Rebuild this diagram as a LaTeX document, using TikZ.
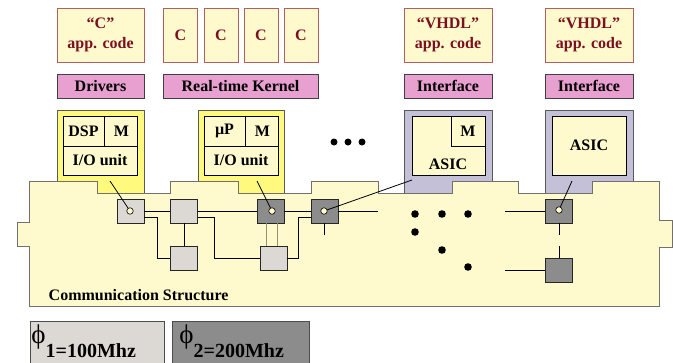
\documentclass[tikz,border=0pt]{standalone}
\usepackage{fontspec}
\setmainfont{Liberation Serif}
\usetikzlibrary{positioning, calc}
\definecolor{crema}{RGB}{255,250,205}
\definecolor{amarillo}{RGB}{255,250,125}
\definecolor{lila}{RGB}{196,192,216}
\definecolor{rosa}{RGB}{232,160,208}
\definecolor{granate}{RGB}{122,16,32}
\definecolor{borde}{RGB}{176,96,96}
\definecolor{gclaro}{RGB}{220,216,212}
\definecolor{goscuro}{RGB}{140,140,140}
\definecolor{linea}{RGB}{112,112,112}
\definecolor{oliva}{RGB}{150,145,115}
\tikzset{
    letra/.style={font=\bfseries\fontsize{16}{20}\selectfont},
    codigo/.style={letra, draw=borde, fill=crema, text=granate, minimum height=54pt, inner sep=0pt, line width=0.8pt, align=center},
    capa/.style={letra, draw=black!75, fill=rosa, minimum height=24pt, inner sep=0pt, line width=0.8pt},
    celda/.style={letra, draw, fill=crema, inner sep=0pt, line width=0.8pt},
    conm/.style={draw=black!85, minimum width=27pt, minimum height=24pt, inner sep=0pt, line width=0.8pt},
    claro/.style={conm, fill=gclaro},
    oscuro/.style={conm, fill=goscuro},
    puerto/.style={circle, draw, fill=crema, minimum size=6.5pt, inner sep=0pt, line width=0.6pt},
    reloj/.style={draw=black!70, minimum height=46pt, inner sep=0pt, line width=0.8pt, anchor=north west},
}

\begin{document}
\begin{tikzpicture}[x=1pt, y=-1pt, line width=0.8pt]
\useasboundingbox (0,0) rectangle (673,362);

% Codigo de aplicacion
\node[codigo, minimum width=87pt] (cc) at (100.5,35) {“C”\\app. code};
\foreach \x/\n in {180.5/1, 221/2, 261/3, 301/4} {
    \node[codigo, minimum width=34pt] (c\n) at (\x,35) {C};
}
\node[codigo, minimum width=88pt] (v1) at (448,35) {“VHDL”\\app. code};
\node[codigo, minimum width=88pt] (v2) at (589,35) {“VHDL”\\app. code};

% Capas
\node[capa, minimum width=87pt] (drv) at (100.5,86) {Drivers};
\node[capa, minimum width=155pt] (rtk) at (240.5,86) {Real-time Kernel};
\node[capa, minimum width=88pt] (if1) at (448,86) {Interface};
\node[capa, minimum width=88pt] (if2) at (589,86) {Interface};

% Procesador 1: DSP
\draw[fill=amarillo, draw=black!65] (57,110) rectangle (144,193);
\node[celda, minimum width=41pt, minimum height=30pt] (dsp) at (83.5,131) {DSP};
\node[celda, minimum width=33pt, minimum height=30pt, right=0pt of dsp] (m1) {M};
\node[celda, minimum width=74pt, minimum height=29pt] (io1) at (100,160.5) {I/O unit};

% Procesador 2: uP
\draw[fill=amarillo, draw=black!65] (198,110) rectangle (284,193);
\node[celda, minimum width=41pt, minimum height=30pt] (up) at (224.5,131) {µP};
\node[celda, minimum width=33pt, minimum height=30pt, right=0pt of up] (m2) {M};
\node[celda, minimum width=74pt, minimum height=29pt] (io2) at (241,160.5) {I/O unit};

\foreach \x in {334,348,362} {
    \fill (\x,142) circle (3.5);
}

% ASIC 1 y ASIC 2
\draw[fill=lila, draw=black!65] (404,110) rectangle (492,193);
\node[celda, minimum width=73pt, minimum height=59pt] (as1) at (448.5,145.5) {};
\node[celda, minimum width=34pt, minimum height=30pt] (m3) at (468,131) {M};
\node[letra] (t1) at (448,164) {ASIC};
\draw[fill=lila, draw=black!65] (545,110) rectangle (633,193);
\node[celda, minimum width=74pt, minimum height=59pt] (as2) at (589,145.5) {ASIC};

% Estructura de comunicacion
\draw[fill=crema, draw=linea, line width=1pt] (29,181) -- (97,181) -- (97,193) -- (170,193) -- (170,181)
    -- (238,181) -- (238,193) -- (311,193) -- (311,181) -- (378,181) -- (378,193) -- (452,193)
    -- (452,181) -- (518,181) -- (518,193) -- (592,193) -- (592,181) -- (659,181) -- (659,220)
    -- (672,220) -- (672,247) -- (659,247) -- (659,306) -- (29,306) -- (29,246) -- (17,246)
    -- (17,222) -- (29,222) -- cycle;
\node[letra, anchor=base west] (cs) at (45,300) {Communication Structure};

% Conmutadores
\node[claro] (s1) at (130.5,211) {};
\node[claro] (s2) at (184,211) {};
\node[claro] (s3) at (184,258.5) {};
\node[oscuro] (s4) at (270.5,211) {};
\node[claro] (s5) at (273.5,258.5) {};
\node[oscuro] (s6) at (324.5,211) {};
\node[oscuro] (s7) at (559,211) {};
\node[oscuro] (s8) at (559,270.5) {};

\coordinate (o6) at (378,211);
\coordinate (i7) at (505,211);
\coordinate (i8) at (505,270.5);

\draw (s1.east) -- (s2.west);
\draw ([yshift=-6pt]s1.east) -- ++(13,0) |- (s3.west);
\draw (s2) -- (s3);
\draw (s2.east) -- (s4.west);
\draw ([yshift=-6pt]s2.east) -- ++(16,0) |- (s5.west);
\draw[oliva, line width=1.6pt] ([xshift=-4pt]s4.south) -- ([xshift=-4pt]s4.south |- s5.north);
\draw[oliva, line width=1.6pt] ([xshift=7pt]s4.south) -- ([xshift=7pt]s4.south |- s5.north);
\draw (s4.east) -- (s6.west);
\draw (s5.east) -- ++(11,0) |- ([yshift=-6pt]s6.west);
\draw (s6.east) -- (o6);
\draw (s6.south) -- ++(0,12);
\draw (i7) -- (s7.west);
\draw (i8) -- (s8.west);
\draw (s7.south) -- ++(0,12);
\draw (s8.north) -- ++(0,-12);

\foreach \p in {(415,214),(442,214),(468,214),(415,232),(442,250),(468,267)} {
    \fill \p circle (3.8);
}

% Puertos
\node[puerto] (q1) at (130,211) {};
\node[puerto] (q2) at (272,211) {};
\node[puerto] (q3) at (324,211) {};
\node[puerto] (q4) at (559,210) {};
\coordinate (p1) at (110,181);
\coordinate (p2) at (257,181);
\coordinate (p3) at (412,180);
\coordinate (p4) at (572,181);
\draw (p1) -- (q1);
\draw (p2) -- (q2);
\draw (p3) -- (q3);
\draw (p4) -- (q4);

% Relojes
\node[reloj, fill=gclaro, minimum width=134pt] (f1) at (30,321) {};
\node[reloj, fill=goscuro, minimum width=137pt] (f2) at (172,321) {};
\node[anchor=base west, inner sep=0pt] (l1) at (31,343)
    {{\fontsize{27}{27}\selectfont ϕ}\raisebox{-14pt}{\bfseries\fontsize{20}{20}\selectfont 1=100Mhz}};
\node[anchor=base west, inner sep=0pt] (l2) at (179,343)
    {{\fontsize{27}{27}\selectfont ϕ}\raisebox{-14pt}{\bfseries\fontsize{20}{20}\selectfont 2=200Mhz}};
\end{tikzpicture}
\end{document}
